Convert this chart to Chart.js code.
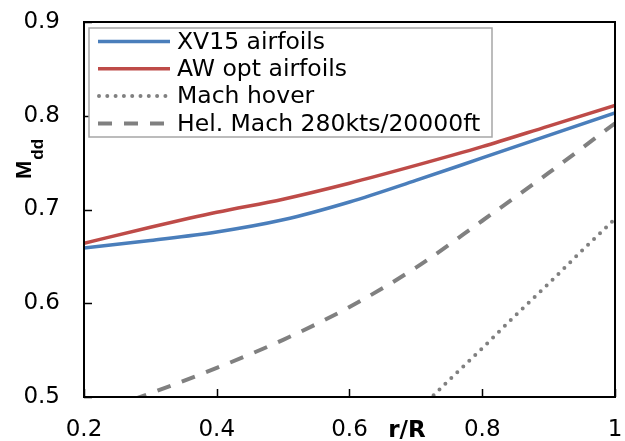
<!DOCTYPE html>
<html>
<head>
<meta charset="utf-8">
<script src="https://cdn.jsdelivr.net/npm/chart.js@4/dist/chart.umd.min.js"></script>
<style>
  html, body { margin: 0; padding: 0; background: #ffffff; }
  #wrap { width: 625px; height: 441px; }
</style>
</head>
<body>
<div id="wrap"><canvas id="chart" width="625" height="441"></canvas></div>
<script>
// Radial stations r/R
const radius = [0.2, 0.3, 0.4, 0.5, 0.6, 0.7, 0.8, 0.9, 1.0];
// Drag-divergence Mach number along the blade
const xv15Airfoils = [0.659, 0.667, 0.676, 0.689, 0.708, 0.731, 0.755, 0.779, 0.803];
const awOptAirfoils = [0.664, 0.681, 0.697, 0.711, 0.728, 0.747, 0.767, 0.789, 0.811];
// Advancing-side helical Mach number, 280 kts at 20000 ft
const helMach = [0.479, 0.504, 0.531, 0.561, 0.596, 0.638, 0.688, 0.739, 0.792];
// Hover Mach number (outer stations only)
const radiusHover = [0.7, 0.75, 0.8, 0.85, 0.9, 0.95, 1.0];
const machHover = [0.483, 0.518, 0.552, 0.587, 0.621, 0.656, 0.690];

const xTicks = [0.2, 0.4, 0.6, 0.8, 1.0];
const yTicks = [0.5, 0.6, 0.7, 0.8, 0.9];

const FONT = 'DejaVu Sans';
const toPoints = (xs, ys) => xs.map((x, i) => ({ x: x, y: ys[i] }));

// Fixed axis sizes; label overhang is handled by the layout padding
function fixScale(scale, size) {
  if (scale.isHorizontal()) scale.height = size; else scale.width = size;
  scale.paddingLeft = 0;
  scale.paddingRight = 0;
  scale.paddingTop = 0;
  scale.paddingBottom = 0;
}

// Plot frame with inward tick marks
const framePlugin = {
  id: 'frame',
  afterDatasetsDraw(chart) {
    const { ctx, chartArea: a, scales } = chart;
    ctx.save();
    ctx.strokeStyle = '#000000';
    ctx.lineWidth = 2;
    ctx.strokeRect(a.left, a.top, a.right - a.left, a.bottom - a.top);
    ctx.lineWidth = 1.5;
    ctx.beginPath();
    yTicks.forEach(v => {
      const y = Math.round(scales.y.getPixelForValue(v)) + 0.5;
      ctx.moveTo(a.left, y); ctx.lineTo(a.left + 8, y);
    });
    xTicks.forEach(v => {
      const x = Math.round(scales.x.getPixelForValue(v)) + 0.5;
      ctx.moveTo(x, a.bottom); ctx.lineTo(x, a.bottom - 8);
    });
    ctx.stroke();
    ctx.restore();
  }
};

// Axis titles: rotated M_dd and inline r/R
const titlesPlugin = {
  id: 'titles',
  afterDraw(chart) {
    const { ctx } = chart;
    ctx.save();
    ctx.fillStyle = '#000000';
    ctx.textBaseline = 'alphabetic';
    ctx.textAlign = 'left';
    ctx.translate(31, 179);
    ctx.rotate(-Math.PI / 2);
    ctx.font = 'bold 22px "Liberation Sans"';
    ctx.fillText('M', 0, 0);
    const w = ctx.measureText('M').width;
    ctx.font = 'bold 17px "Liberation Sans"';
    ctx.fillText('dd', w + 1, 12);
    ctx.restore();

    ctx.save();
    ctx.fillStyle = '#000000';
    ctx.font = 'bold 23px "' + FONT + '"';
    ctx.textAlign = 'center';
    ctx.textBaseline = 'middle';
    ctx.fillText('r/R', 407, 431);
    ctx.restore();
  }
};

// Boxed legend drawn inside the plot area
const boxLegendPlugin = {
  id: 'boxLegend',
  afterDraw(chart) {
    const { ctx } = chart;
    const box = { left: 89, top: 28, right: 492, bottom: 137 };
    ctx.save();
    ctx.fillStyle = '#ffffff';
    ctx.fillRect(box.left, box.top, box.right - box.left, box.bottom - box.top);
    ctx.strokeStyle = '#a6a6a6';
    ctx.lineWidth = 1.5;
    ctx.strokeRect(box.left, box.top, box.right - box.left, box.bottom - box.top);
    const rowH = 27.3;
    chart.data.datasets.forEach((ds, i) => {
      const y = box.top + 13.5 + i * rowH;
      ctx.save();
      ctx.strokeStyle = ds.borderColor;
      ctx.lineWidth = ds.borderWidth;
      ctx.lineCap = ds.borderCapStyle || 'butt';
      ctx.setLineDash(ds.borderDash || []);
      ctx.beginPath();
      ctx.moveTo(ds.borderDash && ds.borderDash[0] === 0 ? 99 : 98, y);
      ctx.lineTo(170, y);
      ctx.stroke();
      ctx.restore();
      ctx.fillStyle = '#000000';
      ctx.font = '23.5px "' + FONT + '"';
      ctx.textAlign = 'left';
      ctx.textBaseline = 'middle';
      ctx.fillText(ds.label, 177, y + 1);
    });
    ctx.restore();
  }
};

new Chart(document.getElementById('chart'), {
  type: 'line',
  data: {
    datasets: [
      {
        label: 'XV15 airfoils',
        data: toPoints(radius, xv15Airfoils),
        borderColor: '#4a7ebb',
        borderWidth: 3.5,
        pointRadius: 0,
        cubicInterpolationMode: 'monotone'
      },
      {
        label: 'AW opt airfoils',
        data: toPoints(radius, awOptAirfoils),
        borderColor: '#be4b48',
        borderWidth: 3.5,
        pointRadius: 0,
        cubicInterpolationMode: 'monotone'
      },
      {
        label: 'Mach hover',
        data: toPoints(radiusHover, machHover),
        borderColor: '#808080',
        borderWidth: 4,
        borderDash: [0, 8.3],
        borderCapStyle: 'round',
        pointRadius: 0,
        cubicInterpolationMode: 'monotone'
      },
      {
        label: 'Hel. Mach 280kts/20000ft',
        data: toPoints(radius, helMach),
        borderColor: '#808080',
        borderWidth: 4,
        borderDash: [14, 12],
        pointRadius: 0,
        cubicInterpolationMode: 'monotone'
      }
    ]
  },
  options: {
    responsive: false,
    animation: false,
    devicePixelRatio: 1,
    layout: { padding: { left: 0, top: 22, right: 10, bottom: 0 } },
    plugins: {
      legend: { display: false },
      tooltip: { enabled: false }
    },
    scales: {
      x: {
        type: 'linear',
        min: 0.2,
        max: 1.0,
        afterFit(scale) { fixScale(scale, 44); },
        afterBuildTicks(scale) { scale.ticks = xTicks.map(v => ({ value: v })); },
        border: { display: true, color: '#000000', width: 2 },
        grid: { display: true, drawOnChartArea: false, drawTicks: false },
        ticks: {
          padding: 19,
          color: '#000000',
          font: { family: FONT, size: 23 },
          maxRotation: 0,
          callback: v => (v === 1 ? '1' : v.toFixed(1))
        }
      },
      y: {
        type: 'linear',
        min: 0.5,
        max: 0.9,
        afterFit(scale) { fixScale(scale, 84); },
        afterBuildTicks(scale) { scale.ticks = yTicks.map(v => ({ value: v })); },
        border: { display: true, color: '#000000', width: 2 },
        grid: { display: true, drawOnChartArea: false, drawTicks: false },
        ticks: {
          padding: 24,
          color: '#000000',
          font: { family: FONT, size: 23 },
          callback: v => v.toFixed(1)
        }
      }
    }
  },
  plugins: [framePlugin, titlesPlugin, boxLegendPlugin]
});
</script>
</body>
</html>
